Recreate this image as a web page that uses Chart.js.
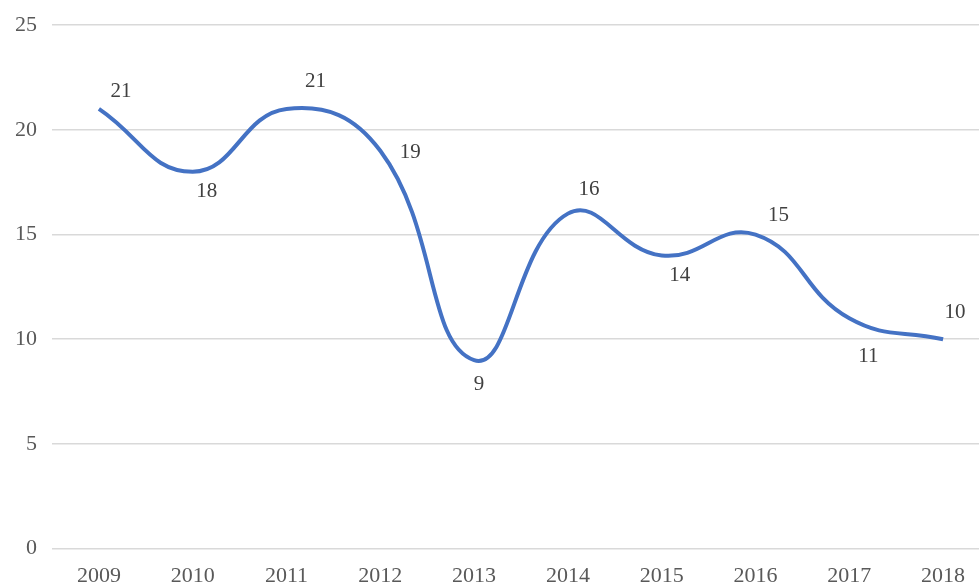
<!DOCTYPE html>
<html>
<head>
<meta charset="utf-8">
<script src="https://cdn.jsdelivr.net/npm/chart.js@4.4.1/dist/chart.umd.min.js"></script>
<style>
    html, body { margin: 0; padding: 0; background: #fff; overflow: hidden; }
    #wrap { width: 990px; height: 606px; margin-top: -3px; }
</style>
</head>
<body>
<div id="wrap"><canvas id="chart"></canvas></div>
<script>
    // Dados do gráfico
    const years = ['2009', '2010', '2011', '2012', '2013', '2014', '2015', '2016', '2017', '2018'];
    const values = [21, 18, 21, 19, 9, 16, 14, 15, 11, 10];
    const yTicks = [0, 5, 10, 15, 20, 25];

    // Deslocamento de cada rótulo em relação ao ponto (estilo)
    const labelOffsets = [
        [22, -17], [14, 20], [29, -27], [30, 2], [5, 24],
        [21, -24], [18, 20], [23, -19], [19, 38], [12, -27]
    ];

    const serif = '"Liberation Serif", "DejaVu Serif", serif';

    // Plugin simples para desenhar os rótulos de dados
    const valueLabels = {
        id: 'valueLabels',
        afterDatasetsDraw(chart) {
            const ctx = chart.ctx;
            const meta = chart.getDatasetMeta(0);
            ctx.save();
            ctx.font = '21px ' + serif;
            ctx.fillStyle = '#404040';
            ctx.textAlign = 'center';
            ctx.textBaseline = 'middle';
            meta.data.forEach((pt, i) => {
                const off = labelOffsets[i];
                ctx.fillText(String(values[i]), pt.x + off[0], pt.y + off[1]);
            });
            ctx.restore();
        }
    };

    const ctx = document.getElementById('chart').getContext('2d');
    new Chart(ctx, {
        type: 'line',
        data: {
            labels: years,
            datasets: [{
                data: values,
                borderColor: '#4472C4',
                borderWidth: 4,
                pointRadius: 0,
                tension: 0.45,
                fill: false
            }]
        },
        options: {
            responsive: true,
            maintainAspectRatio: false,
            animation: false,
            layout: { padding: 0 },
            plugins: {
                legend: { display: false },
                tooltip: { enabled: false }
            },
            scales: {
                x: {
                    offset: true,
                    grid: { display: false, drawTicks: false },
                    border: { display: false },
                    ticks: {
                        color: '#595959',
                        padding: 14,
                        maxRotation: 0,
                        font: { family: serif, size: 22 }
                    }
                },
                y: {
                    min: 0,
                    max: 25,
                    afterBuildTicks(scale) {
                        scale.ticks = yTicks.map(v => ({ value: v }));
                    },
                    grid: { color: '#d9d9d9', lineWidth: 1.5, drawTicks: false },
                    border: { display: false },
                    ticks: {
                        color: '#595959',
                        padding: 15,
                        font: { family: serif, size: 22 }
                    }
                }
            }
        },
        plugins: [valueLabels]
    });
</script>
</body>
</html>
